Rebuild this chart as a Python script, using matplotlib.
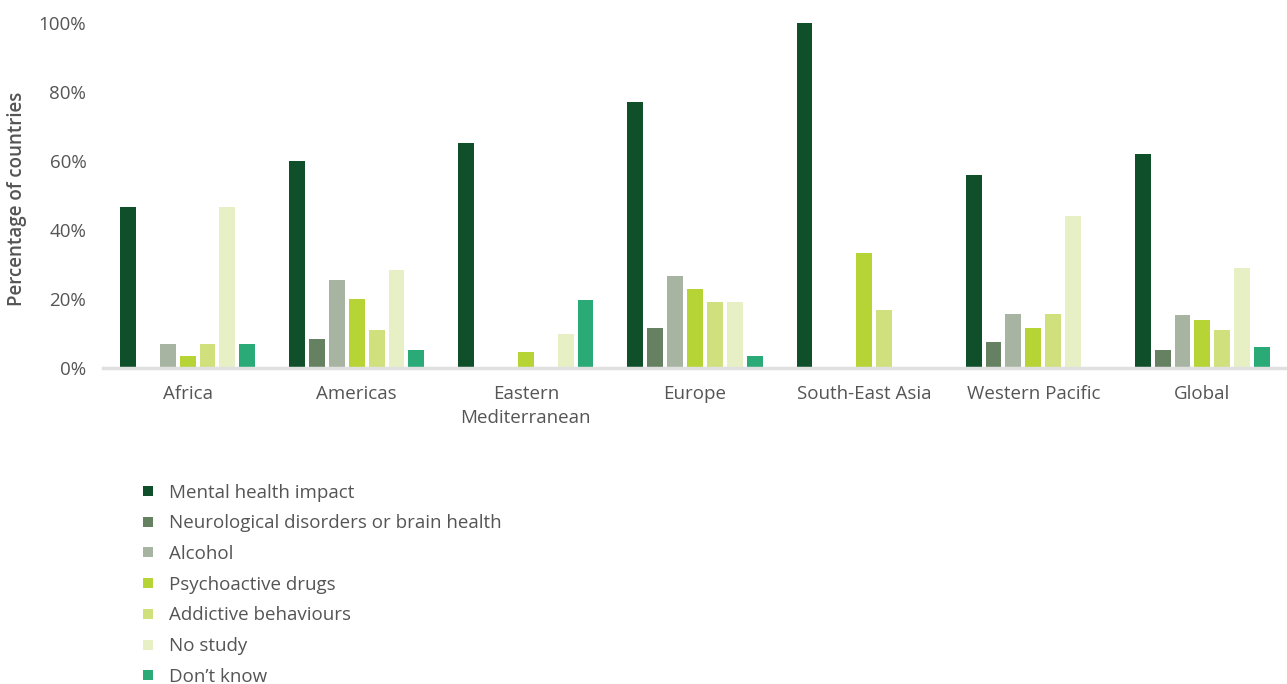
import numpy as np
import matplotlib.pyplot as plt
from matplotlib.lines import Line2D

regions = [
    "Africa",
    "Americas",
    "Eastern\nMediterranean",
    "Europe",
    "South-East Asia",
    "Western Pacific",
    "Global",
]

series_names = [
    "Mental health impact",
    "Neurological disorders or brain health",
    "Alcohol",
    "Psychoactive drugs",
    "Addictive behaviours",
    "No study",
    "Don\u2019t know",
]

# percentage of countries, one list per series (order follows regions)
mental_health = [46.5, 60, 65, 77, 100, 56, 62]
neurological = [0, 8.5, 0, 11.5, 0, 7.5, 5.2]
alcohol = [7, 25.5, 0, 26.7, 0, 15.6, 15.4]
psychoactive = [3.5, 20, 4.7, 23, 33.3, 11.6, 14]
addictive = [7, 11, 0, 19, 16.7, 15.6, 11]
no_study = [46.5, 28.5, 9.7, 19, 0, 44, 29]
dont_know = [7, 5.2, 19.8, 3.5, 0, 0, 6.1]

series_values = [mental_health, neurological, alcohol, psychoactive,
                 addictive, no_study, dont_know]

series_colors = [
    "#0f502a",
    "#658162",
    "#a8b4a2",
    "#b6d435",
    "#d0e07c",
    "#e7efc5",
    "#2aaa77",
]

yticks = [0, 20, 40, 60, 80, 100]

plt.rcParams.update({
    "font.family": ["Open Sans", "DejaVu Sans"],
    "font.size": 13.5,
})
text_grey = "#555555"
fs = 13.5

fig = plt.figure(figsize=(12.87, 6.84), dpi=100)
ax = fig.add_axes([103 / 1287, 1 - 368 / 684, 1 - 103 / 1287, (368 - 22.5) / 684])

x = np.arange(len(regions))
n = len(series_names)
step = 0.1176
bar_w = 0.094
offsets = (np.arange(n) - (n - 1) / 2) * step

for i, vals in enumerate(series_values):
    ax.bar(x + offsets[i], vals, width=bar_w, color=series_colors[i],
           linewidth=0, zorder=3)

ax.set_xlim(-0.5, len(regions) - 0.5)
ax.set_ylim(0, 100)

for side in ["top", "right", "left"]:
    ax.spines[side].set_visible(False)
ax.spines["bottom"].set_color("#e0e0e0")
ax.spines["bottom"].set_linewidth(2.5)
ax.spines["bottom"].set_zorder(4)

ax.set_yticks(yticks)
ax.set_yticklabels([f"{t}%" for t in yticks], color=text_grey, fontsize=fs)
ax.tick_params(axis="y", length=0, pad=12)

ax.set_xticks(x)
ax.set_xticklabels(regions, color=text_grey, fontsize=fs, linespacing=1.45)
ax.tick_params(axis="x", length=0, pad=12)

ax.set_ylabel("Percentage of countries", color=text_grey, fontsize=fs,
              fontweight="semibold")
ax.yaxis.set_label_coords(-0.064, 0.49)

handles = [
    Line2D([], [], marker="s", linestyle="none", markersize=6.5,
           markerfacecolor=c, markeredgewidth=0)
    for c in series_colors
]
fig.legend(
    handles, series_names,
    loc="upper left",
    bbox_to_anchor=(133 / 1287, 1 - 476 / 684),
    frameon=False,
    fontsize=fs,
    labelcolor=text_grey,
    handlelength=0.8,
    handletextpad=0.7,
    labelspacing=0.68,
    borderaxespad=0,
)

fig.savefig("out.png", dpi=100, facecolor="white")
